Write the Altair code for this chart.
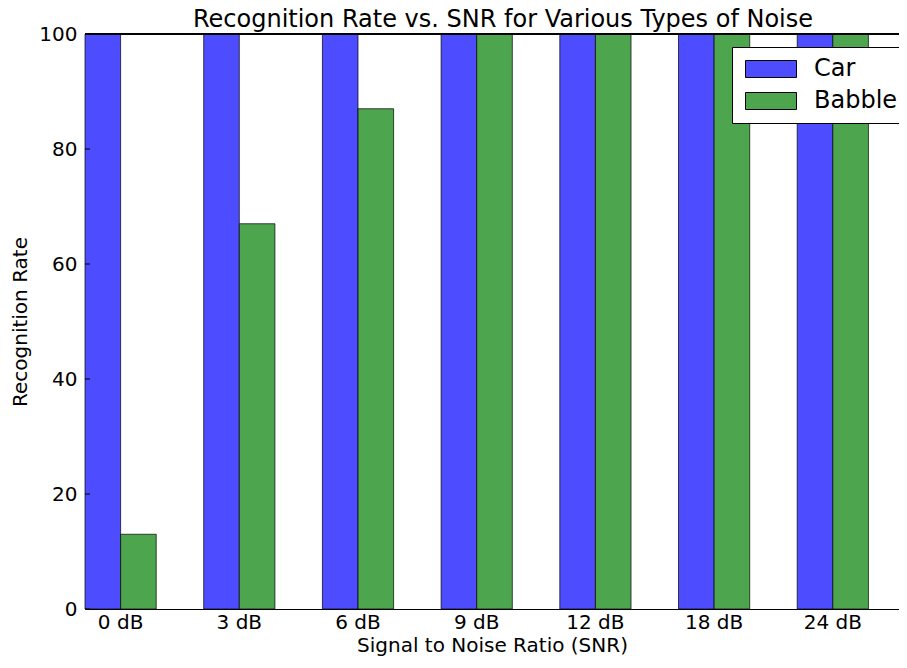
import altair as alt
import pandas as pd

# ---- data ----
snr_labels = ["0 dB", "3 dB", "6 dB", "9 dB", "12 dB", "18 dB", "24 dB"]
car_rate = [100, 100, 100, 100, 100, 100, 100]
babble_rate = [13, 67, 87, 100, 100, 100, 100]
series = ["Car", "Babble"]
series_colors = ["#4d4dff", "#4da64d"]
y_ticks = [0, 20, 40, 60, 80, 100]
chart_title = ["Recognition Rate vs. SNR for Various Types of Noise"]

rows = []
for i, s in enumerate(snr_labels):
    rows.append({"snr": s, "noise": "Car", "rate": car_rate[i]})
    rows.append({"snr": s, "noise": "Babble", "rate": babble_rate[i]})
df = pd.DataFrame(rows)
ticks_df = pd.DataFrame({"rate": y_ticks})
title_df = pd.DataFrame({"t": chart_title})

W, H = 814, 575
STEP = 118.7
FONT = "DejaVu Sans"
n_eff = W / STEP
pad_outer = (n_eff - (len(snr_labels) - 0.4)) / 2

y_enc = alt.Y(
    "rate:Q",
    title="Recognition Rate",
    scale=alt.Scale(domain=[0, 100], nice=False, zero=True),
    axis=alt.Axis(
        values=y_ticks, ticks=False, grid=False, labelPadding=8,
        labelFontSize=20, titleFontSize=20, titlePadding=8,
        domainColor="black", labelColor="black", titleColor="black",
        titleFontWeight="normal",
    ),
)

bars = alt.Chart(df).mark_bar(
    stroke="black", strokeOpacity=0.7, strokeWidth=1, opacity=1
).encode(
    x=alt.X(
        "snr:N",
        sort=snr_labels,
        title="Signal to Noise Ratio (SNR)",
        scale=alt.Scale(paddingInner=0.4, paddingOuter=pad_outer, align=0),
        axis=alt.Axis(
            labelAngle=0, ticks=False, labelPadding=3, labelFontSize=20,
            titleFontSize=20, titlePadding=3, domainColor="black",
            labelColor="black", titleColor="black", titleFontWeight="normal",
        ),
    ),
    xOffset=alt.XOffset(
        "noise:N", sort=series,
        scale=alt.Scale(domain=series, paddingInner=0, paddingOuter=0),
    ),
    y=y_enc,
    color=alt.Color(
        "noise:N",
        sort=series,
        scale=alt.Scale(domain=series, range=series_colors),
        legend=alt.Legend(
            title=None, orient="none", legendX=647, legendY=13,
            strokeColor="black", fillColor="white", padding=10,
            cornerRadius=0, labelFontSize=24, labelFont=FONT,
            labelColor="black", symbolType="M-1,-1H5V1H-1Z", symbolSize=289,
            symbolStrokeColor="black", symbolStrokeWidth=1,
            symbolOpacity=1, labelOffset=48, rowPadding=8,
        ),
    ),
)

inner_ticks = alt.Chart(ticks_df).mark_rule(color="black", strokeWidth=1).encode(
    y=y_enc, x=alt.value(0), x2=alt.value(5)
)

top_spine = alt.Chart(ticks_df).mark_rule(color="black", strokeWidth=1).encode(
    x=alt.value(0), x2=alt.value(W), y=alt.value(0)
)

title_text = alt.Chart(title_df).mark_text(
    font=FONT, fontSize=24, color="black", align="center", baseline="alphabetic"
).encode(text="t:N", x=alt.value(418), y=alt.value(-7))

chart = alt.layer(bars, inner_ticks, top_spine, title_text).properties(
    width=W, height=H,
    autosize=alt.AutoSizeParams(type="none"),
    padding={"left": 77, "top": 26, "right": 0, "bottom": 47},
).configure(
    font=FONT,
).configure_view(
    stroke=None
).configure_axis(
    labelFont=FONT, titleFont=FONT, domainWidth=1
)

chart.save("out.html", embed_options={"renderer": "svg", "actions": False})
